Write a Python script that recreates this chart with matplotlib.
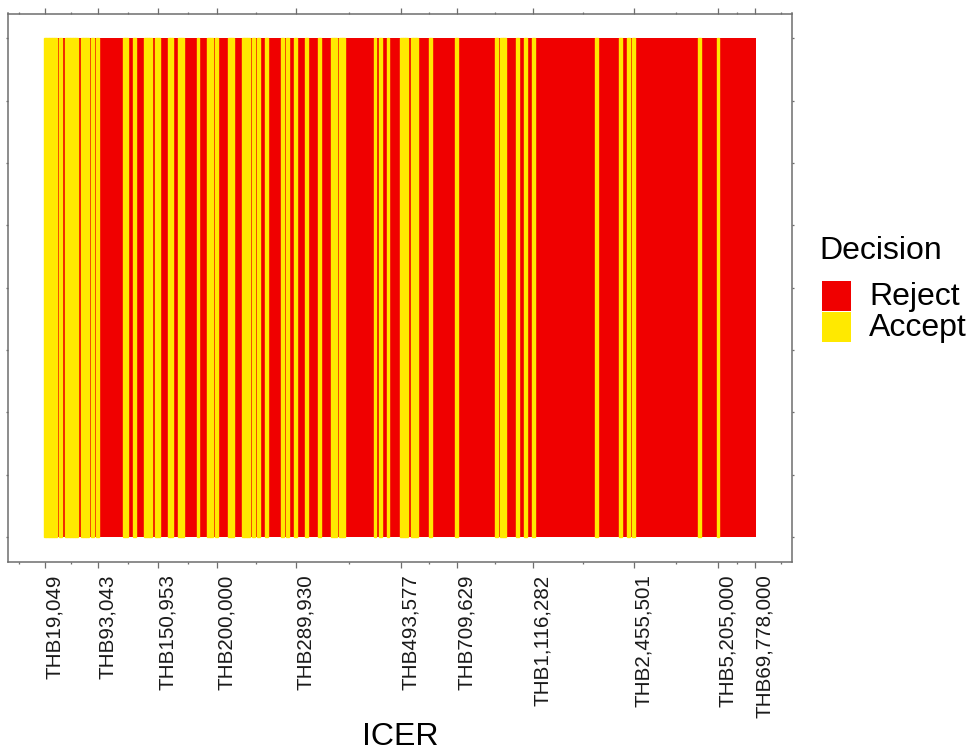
import matplotlib
matplotlib.use("Agg")
import matplotlib.pyplot as plt
from matplotlib.patches import Rectangle
import numpy as np

plt.rcParams['font.family'] = ['Liberation Sans', 'DejaVu Sans']

# ---- data -------------------------------------------------------------
decision_levels = ["Reject", "Accept"]
decision_colors = ["#F00000", "#FFE900"]

# decisions of the ranked ICER simulations, stored as consecutive runs
run_decision = ["Accept", "Reject"] * 45
run_length = [5, 1, 1, 1, 5, 1, 3, 1, 1, 1,
              1, 9, 2, 2, 1, 3, 3, 1, 2, 3,
              2, 2, 2, 5, 1, 3, 2, 1, 1, 4,
              2, 3, 3, 1, 1, 1, 1, 2, 1, 5,
              1, 1, 1, 2, 1, 3, 1, 4, 1, 4,
              2, 1, 2, 11, 1, 1, 1, 2, 1, 4,
              3, 1, 3, 4, 1, 9, 1, 14, 1, 1,
              2, 4, 1, 2, 1, 2, 1, 23, 1, 8,
              1, 2, 1, 1, 1, 24, 1, 6, 1, 14]

tick_ranks = [1, 21, 44, 66, 96, 136, 157, 186, 224, 256, 270]
tick_labels = ["THB19,049", "THB93,043", "THB150,953", "THB200,000",
               "THB289,930", "THB493,577", "THB709,629", "THB1,116,282",
               "THB2,455,501", "THB5,205,000", "THB69,778,000"]

y_breaks = [0, 0.125, 0.25, 0.375, 0.5, 0.625, 0.75, 0.875, 1.0]

# ---- expand runs -------------------------------------------------------
decisions = [d for d, n in zip(run_decision, run_length) for _ in range(n)]
ranks = np.arange(1, len(decisions) + 1)

W, H = 969, 756
fig = plt.figure(figsize=(W / 100, H / 100), dpi=100)
ax = fig.add_axes([8 / W, 1 - 562 / H, (792 - 8) / W, (562 - 13.5) / H])

for level, col in zip(decision_levels, decision_colors):
    xs = [r for r, d in zip(ranks, decisions) if d == level]
    if level == "Accept":
        ax.bar(xs, 1, width=1, bottom=0, color=col, edgecolor=col,
               linewidth=1.0, zorder=3)
    else:
        ax.bar(xs, 1, width=1, bottom=0, color=col, edgecolor="none",
               linewidth=0, zorder=2)

n = len(decisions)
xr = n
ax.set_xlim(0.5 - 0.05 * xr, n + 0.5 + 0.05 * xr)
ax.set_ylim(-0.05, 1.05)

# major and minor breaks (ggplot style)
b = list(tick_ranks)
bd = b[1] - b[0]
ext = [b[0] - bd] + b + [b[-1] + bd]
minor = [(ext[i] + ext[i + 1]) / 2 for i in range(len(ext) - 1)]
minor = [m for m in minor if m not in b]

ax.set_xticks(tick_ranks)
ax.set_xticklabels(tick_labels, rotation=90, fontsize=14.9, color="#1a1a1a",
                   ha="left")
ax.set_xticks(minor, minor=True)
ax.set_yticks(y_breaks)
ax.set_yticklabels([])

spine_col = "#6e6e6e"
for s in ax.spines.values():
    s.set_color(spine_col)
    s.set_linewidth(1.1)

ax.tick_params(axis="x", which="major", direction="out", length=4,
               width=0.9, color=spine_col, pad=5, top=True, labeltop=False)
ax.tick_params(axis="x", which="minor", direction="out", length=1.5,
               width=0.9, color=spine_col, top=True)
ax.tick_params(axis="y", which="major", direction="out", length=1.5,
               width=0.9, color=spine_col, right=True)

ax.set_xlabel("ICER", fontsize=23, va="center")
ax.xaxis.set_label_coords(0.5, (756 - 737 - 194) / 548.5)

# ---- legend (drawn in figure pixels) -----------------------------------
def fx(px):
    return px / W

def fy(py):
    return 1 - py / H

fig.text(fx(819), fy(251), "Decision", fontsize=23, ha="left", va="center")
key_top = 281
for i, (level, col) in enumerate(zip(decision_levels, decision_colors)):
    top = key_top + i * 31
    fig.add_artist(Rectangle((fx(822), fy(top + 30)), 29 / W, 30 / H,
                             transform=fig.transFigure, facecolor=col,
                             edgecolor="none"))
    fig.text(fx(869), fy(top + 16), level, fontsize=23, ha="left",
             va="center")

fig.savefig("out.png", dpi=100)
